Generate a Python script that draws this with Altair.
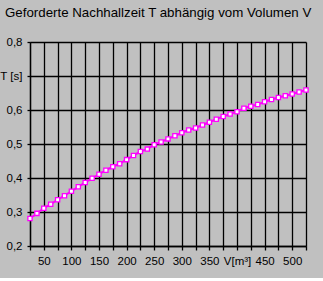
import altair as alt
import pandas as pd

volumes = [25, 37.5, 50, 62.5, 75, 87.5, 100, 112.5, 125, 137.5, 150, 162.5, 175, 187.5,
           200, 212.5, 225, 237.5, 250, 262.5, 275, 287.5, 300, 312.5, 325, 337.5, 350,
           362.5, 375, 387.5, 400, 412.5, 425, 437.5, 450, 462.5, 475, 487.5, 500, 512.5, 525]
times = [0.281, 0.296, 0.311, 0.323, 0.336, 0.348, 0.361, 0.374, 0.387, 0.399, 0.411,
         0.423, 0.433, 0.442, 0.454, 0.466, 0.478, 0.485, 0.498, 0.506, 0.515, 0.524,
         0.533, 0.541, 0.547, 0.556, 0.564, 0.573, 0.581, 0.588, 0.595, 0.605, 0.611,
         0.616, 0.624, 0.631, 0.637, 0.642, 0.647, 0.653, 0.659]
x_ticks = [25, 50, 75, 100, 125, 150, 175, 200, 225, 250, 275, 300, 325, 350, 375,
           400, 425, 450, 475, 500, 525]
y_ticks = [0.2, 0.3, 0.4, 0.5, 0.6, 0.7, 0.8]
title_text = "Geforderte Nachhallzeit T abhängig vom Volumen V"

df = pd.DataFrame({"V": volumes, "T": times})

FONT = "Liberation Sans"
MAG = "#FF00FF"

x_enc = alt.X(
    "V:Q",
    scale=alt.Scale(domain=[25, 525], nice=False, zero=False),
    axis=alt.Axis(
        values=x_ticks,
        title=None,
        grid=True,
        gridColor="black",
        gridOpacity=1,
        gridWidth=1.3,
        domainColor="black",
        domainWidth=1.3,
        tickColor="black",
        tickWidth=1.3,
        tickSize=4,
        labelPadding=5,
        labelFont=FONT,
        labelFontSize=11.5,
        labelColor="black",
        labelOverlap=False,
        labelFlush=False,
        labelExpr="datum.value == 400 ? 'V[m³]' : ((datum.value % 50 == 0 && datum.value > 25 && datum.value < 525) ? toString(datum.value) : '')",
    ),
)
y_enc = alt.Y(
    "T:Q",
    scale=alt.Scale(domain=[0.2, 0.8], nice=False, zero=False),
    axis=alt.Axis(
        values=y_ticks,
        title=None,
        grid=True,
        gridColor="black",
        gridOpacity=1,
        gridWidth=1.3,
        domainColor="black",
        domainWidth=1.3,
        tickColor="black",
        tickWidth=1.3,
        tickSize=3,
        labelPadding=5,
        labelFont=FONT,
        labelFontSize=11.5,
        labelColor="black",
        labelOverlap=False,
        labelFlush=False,
        labelExpr="abs(datum.value - 0.7) < 0.001 ? 'T [s]' : replace(format(datum.value, '.1f'), '.', ',')",
    ),
)

base = alt.Chart(df).encode(x=x_enc, y=y_enc)
line = base.mark_line(color=MAG, strokeWidth=2)
pts = base.mark_square(fill="white", stroke=MAG, strokeWidth=1.3, size=18, opacity=1)

chart = (
    alt.layer(line, pts)
    .properties(
        width=276,
        height=204,
        title=alt.TitleParams(
            text=title_text,
            anchor="start",
            frame="group",
            font=FONT,
            fontSize=13.3,
            fontWeight="normal",
            color="black",
            dx=-25,
            offset=17,
        ),
        background="#C0C0C0",
        padding={"left": 30, "top": 42, "right": 17, "bottom": 32},
        autosize=alt.AutoSizeParams(type="none"),
    )
    .configure_view(strokeWidth=0)
)

chart.save("out.html", embed_options={"renderer": "svg", "actions": False})
